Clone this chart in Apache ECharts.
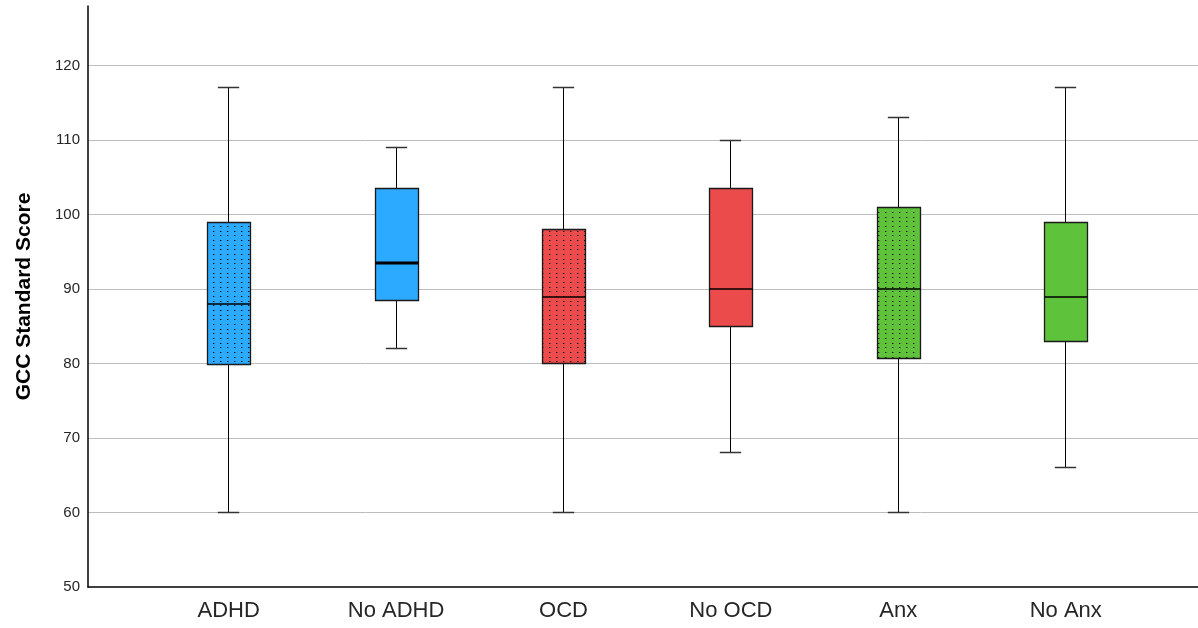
<!DOCTYPE html>
<html>
<head>
    <meta charset="utf-8">
    <title>boxplot</title>
    <script src="https://cdn.jsdelivr.net/npm/echarts@6/dist/echarts.min.js"></script>
    <style>
        html, body { margin: 0; padding: 0; background: #fff; }
    </style>
</head>
<body>

<div id="main" style="width: 1198px;height:628px;"></div>

<script type="text/javascript">
    // 组别与五数概括
    var categories = ['ADHD', 'No ADHD', 'OCD', 'No OCD', 'Anx', 'No Anx'];
    var lowValues = [60, 82, 60, 68, 60, 66];
    var q1Values = [80, 88.5, 80, 85, 80.7, 83];
    var medianValues = [88, 93.5, 89, 90, 90, 89];
    var q3Values = [99, 103.5, 98, 103.5, 101, 99];
    var highValues = [117, 109, 117, 110, 113, 117];
    var yTicks = [50, 60, 70, 80, 90, 100, 110, 120];

    var fills = ['#2caaff', '#2caaff', '#ec4b4b', '#ec4b4b', '#5ec23b', '#5ec23b'];
    var dotted = [true, false, true, false, true, false];
    var medianWidth = [1, 2, 1, 1.2, 1.2, 1];

    // 点状填充
    function dotPattern(color) {
        var c = document.createElement('canvas');
        c.width = 7;
        c.height = 14;
        var ctx = c.getContext('2d');
        ctx.fillStyle = color;
        ctx.fillRect(0, 0, 7, 14);
        ctx.fillStyle = '#000';
        ctx.fillRect(3, 2, 1, 1);
        ctx.fillRect(3, 7, 1, 1);
        ctx.fillRect(3, 11, 1, 1);
        ctx.fillStyle = 'rgba(0,0,0,0.35)';
        ctx.fillRect(4, 2, 1, 1);
        ctx.fillRect(4, 7, 1, 1);
        ctx.fillRect(4, 11, 1, 1);
        return {image: c, repeat: 'repeat'};
    }

    var data = [];
    for (var i = 0; i < categories.length; i++) {
        data.push([i, lowValues[i], q1Values[i], medianValues[i], q3Values[i], highValues[i]]);
    }

    function crisp(v) {
        return Math.round(v - 0.5) + 0.5;
    }

    function renderItem(params, api) {
        var idx = params.dataIndex;
        var x = api.value(0);
        var pLow = api.coord([x, api.value(1)]);
        var pQ1 = api.coord([x, api.value(2)]);
        var pMed = api.coord([x, api.value(3)]);
        var pQ3 = api.coord([x, api.value(4)]);
        var pHigh = api.coord([x, api.value(5)]);
        var boxW = api.size([0.255, 0])[0];
        var cx = crisp(pLow[0]);
        var lineStyle = {stroke: '#000', lineWidth: 1};
        var capStyle = {stroke: '#333', lineWidth: 1.5};
        var fill = dotted[idx] ? dotPattern(fills[idx]) : fills[idx];
        return {
            type: 'group',
            children: [
                {type: 'line', shape: {x1: cx, y1: pQ3[1], x2: cx, y2: pHigh[1]}, style: lineStyle},
                {type: 'line', shape: {x1: cx, y1: pLow[1], x2: cx, y2: pQ1[1]}, style: lineStyle},
                {type: 'line', shape: {x1: cx - boxW / 4, y1: crisp(pHigh[1]), x2: cx + boxW / 4, y2: crisp(pHigh[1])}, style: capStyle},
                {type: 'line', shape: {x1: cx - boxW / 4, y1: crisp(pLow[1]), x2: cx + boxW / 4, y2: crisp(pLow[1])}, style: capStyle},
                {
                    type: 'rect',
                    shape: {
                        x: crisp(cx - boxW / 2), y: crisp(pQ3[1]),
                        width: Math.round(boxW), height: Math.round(pQ1[1] - pQ3[1])
                    },
                    style: {fill: fill, stroke: '#1a1a1a', lineWidth: 1.3}
                },
                {
                    type: 'line',
                    shape: {x1: crisp(cx - boxW / 2), y1: Math.round(pMed[1]), x2: crisp(cx - boxW / 2) + Math.round(boxW), y2: Math.round(pMed[1])},
                    style: {stroke: '#000', lineWidth: medianWidth[idx] * 1.4}
                }
            ]
        };
    }

    var myChart = echarts.init(document.getElementById('main'));

    var option = {
        animation: false,
        grid: {left: 88, right: 0, top: 6, bottom: 41},
        xAxis: {
            type: 'value',
            min: -0.84,
            max: 5.79,
            axisLine: {onZero: false, lineStyle: {color: '#000', width: 1.5}},
            axisTick: {show: false},
            splitLine: {show: false},
            axisLabel: {
                customValues: [0, 1, 2, 3, 4, 5],
                formatter: function (v) { return categories[Math.round(v)]; },
                margin: 13,
                fontSize: 22,
                color: '#262626',
                fontFamily: 'Liberation Sans, Arial, sans-serif'
            }
        },
        yAxis: {
            type: 'value',
            min: 50,
            max: 128,
            name: 'GCC Standard Score',
            nameLocation: 'middle',
            nameGap: 53,
            nameTextStyle: {
                fontSize: 21,
                fontWeight: 'bold',
                color: '#000',
                fontFamily: 'Liberation Sans, Arial, sans-serif'
            },
            axisLine: {show: true, onZero: false, lineStyle: {color: '#000', width: 1.5}},
            axisTick: {show: false},
            splitLine: {lineStyle: {color: '#bdbdbd', width: 1}, showMinLine: false, showMaxLine: false},
            axisLabel: {
                customValues: yTicks,
                margin: 8,
                fontSize: 15,
                color: '#262626',
                fontFamily: 'Liberation Sans, Arial, sans-serif'
            },
            interval: 10
        },
        series: [{
            type: 'custom',
            renderItem: renderItem,
            encode: {x: 0, y: [1, 2, 3, 4, 5]},
            data: data
        }]
    };

    myChart.setOption(option);
</script>
</body>
</html>
